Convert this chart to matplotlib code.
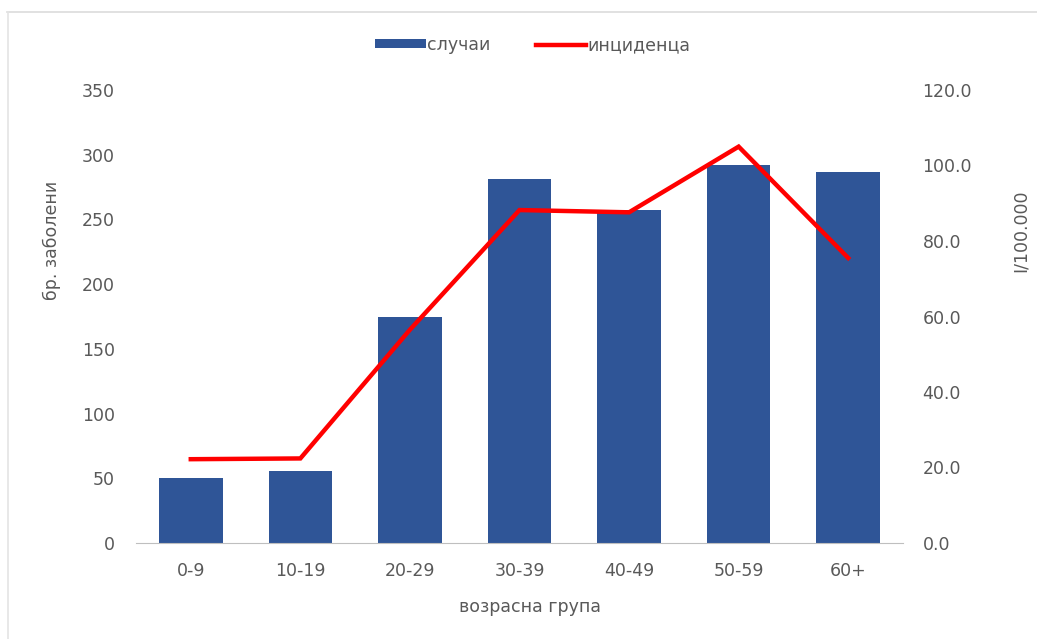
import matplotlib
matplotlib.use("Agg")
import matplotlib.pyplot as plt
from matplotlib.lines import Line2D
import numpy as np

categories = ["0-9", "10-19", "20-29", "30-39", "40-49", "50-59", "60+"]
cases = [50, 56, 175, 281, 257, 292, 287]
incidence = [22.2, 22.4, 56.5, 88.2, 87.6, 105.0, 75.5]
left_ticks = [0, 50, 100, 150, 200, 250, 300, 350]
right_ticks = [0, 20, 40, 60, 80, 100, 120]

plt.rcParams['font.family'] = ['DejaVu Sans']
txt = '#595959'
fs = 12.5

W, H = 1037, 639
fig = plt.figure(figsize=(W/100, H/100), dpi=100)

# faint chart-area border (top and left, as in the reference screenshot)
fig.add_artist(Line2D([7/W, 1.0], [1-11.5/H, 1-11.5/H], color='#DCDCDC', lw=1.2))
fig.add_artist(Line2D([7.5/W, 7.5/W], [0.0, 1-11.5/H], color='#E4E4E4', lw=1.2))

ax = fig.add_axes([136/W, 1-543/H, (903-136)/W, (543-90)/H])
x = np.arange(len(categories))
bars = ax.bar(x, cases, width=0.58, color='#2F5597', label='случаи', zorder=2)
ax.set_xlim(-0.5, len(categories)-0.5)
ax.set_ylim(0, 350)
ax.set_yticks(left_ticks)
ax.set_xticks(x)
ax.set_xticklabels(categories)
for s in ['top', 'right', 'left']:
    ax.spines[s].set_visible(False)
ax.spines['bottom'].set_color('#BFBFBF')
ax.tick_params(axis='both', length=0, colors=txt, labelsize=fs)
ax.tick_params(axis='y', pad=15)
ax.tick_params(axis='x', pad=14)

ax2 = ax.twinx()
line, = ax2.plot(x, incidence, color='#FF0000', lw=3.2, label='инциденца', zorder=3, solid_joinstyle='miter')
ax2.set_ylim(0, 120)
ax2.set_yticks(right_ticks)
ax2.set_yticklabels([f"{v:.1f}" for v in right_ticks])
for s in ['top', 'right', 'left', 'bottom']:
    ax2.spines[s].set_visible(False)
ax2.tick_params(axis='y', length=0, colors=txt, labelsize=fs, pad=14)

fig.text(52/W, 1-240/H, 'бр. заболени', rotation=90, ha='center', va='center', color=txt, fontsize=fs)
fig.text(1021/W, 1-231/H, 'I/100.000', rotation=90, ha='center', va='center', color=txt, fontsize=fs)
fig.text(530/W, 1-607/H, 'возрасна група', ha='center', va='center', color=txt, fontsize=fs)

fig.legend([bars, line], ['случаи', 'инциденца'], loc='center', bbox_to_anchor=(533/W, 1-45/H),
           ncol=2, frameon=False, fontsize=fs, handlelength=2.9, handleheight=0.45,
           handletextpad=0.1, columnspacing=2.6, labelcolor=txt)

fig.savefig('out.png', dpi=100)
